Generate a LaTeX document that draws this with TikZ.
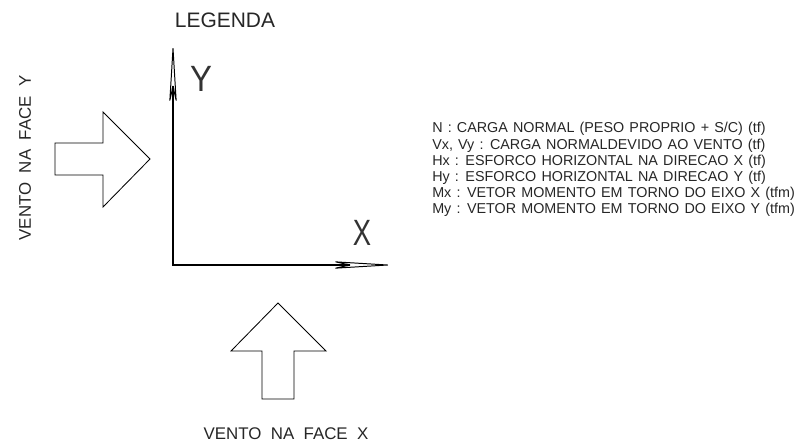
\documentclass[tikz,border=0pt]{standalone}
\usepackage{fontspec}
\setmainfont{Liberation Sans}
\usetikzlibrary{positioning, calc, arrows.meta}

\newcommand{\espacolargo}{\spaceskip=0.36em\relax}

\tikzset{
  eixo/.style={line width=1.4pt,
    -{Stealth[open, round, length=47pt, width=5.7pt, inset=12.8pt, line width=0.7pt]}},
  seta/.style={line width=0.6pt, line join=miter},
  titulo/.style={font=\fontsize{14.9}{16}\selectfont, inner sep=0pt, text=black!85},
  eixolbl/.style={font=\fontsize{26}{28}\selectfont, inner sep=0pt, text=black!80},
  vento/.style={font=\fontsize{12}{14}\selectfont, inner sep=0pt, text=black!85},
  item/.style={font=\fontsize{10.2}{12}\selectfont, execute at begin node=\espacolargo,
    inner sep=0pt, anchor=west, text=black!85}
}

\begin{document}
\begin{tikzpicture}[x=0.025cm, y=-0.025cm]
  \useasboundingbox (0,0) rectangle (794,442);

  % eixos
  \coordinate (O) at (173,265);
  \coordinate (xfim) at (388,265);
  \coordinate (yfim) at (173,48);
  \draw[eixo] (O) -- (xfim);
  \draw[eixo] ($(O)+(0,0.7)$) -- (yfim);

  \node[titulo] (legenda) at (225,20) {LEGENDA};
  \node[eixolbl, xscale=0.9] (ylbl) at (201,79) {Y};
  \node[eixolbl, xscale=0.75] (xlbl) at (362,233) {X};

  % vento na face Y
  \draw[seta] (55,143) -- (103,143) -- (103,112) -- (150,159)
              -- (103,207) -- (103,175) -- (55,175) -- cycle;
  \node[vento, rotate=90] (ventoy) at (25,158) {VENTO\ \ NA\ \ FACE\ \ Y};

  % vento na face X
  \draw[seta] (262,399) -- (262,351) -- (231,351) -- (278,303)
              -- (326,351) -- (294,351) -- (294,399) -- cycle;
  \node[vento] (ventox) at (286,434) {VENTO\ \ NA\ \ FACE\ \ X};

  % legenda
  \node[item] (n)  at (432,129) {N : CARGA NORMAL (PESO PROPRIO + S/C) (tf)};
  \node[item] (v)  at (432,146) {Vx, Vy : CARGA NORMALDEVIDO AO VENTO (tf)};
  \node[item] (hx) at (432,162) {Hx : ESFORCO HORIZONTAL NA DIRECAO X (tf)};
  \node[item] (hy) at (432,178) {Hy : ESFORCO HORIZONTAL NA DIRECAO Y (tf)};
  \node[item] (mx) at (432,194) {Mx : VETOR MOMENTO EM TORNO DO EIXO X (tfm)};
  \node[item] (my) at (432,210) {My : VETOR MOMENTO EM TORNO DO EIXO Y (tfm)};
\end{tikzpicture}
\end{document}
